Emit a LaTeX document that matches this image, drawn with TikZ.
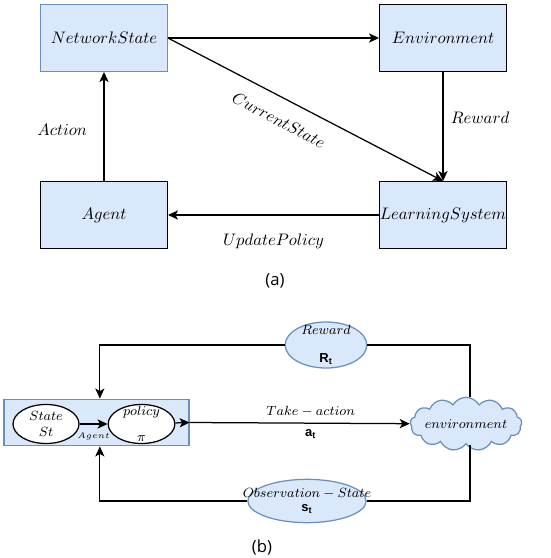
\documentclass[tikz,border=0pt]{standalone}
\usepackage{amsmath}
\usepackage{fontspec}
\setsansfont{Liberation Sans}
\newfontfamily\capfont{Open Sans}
\usepackage{tikz}
\usetikzlibrary{arrows.meta,positioning,calc,shapes.geometric,shapes.symbols}
\definecolor{boxblue}{HTML}{DAE8FC}
\definecolor{lineblue}{HTML}{6C8EBF}

\begin{document}
\begin{tikzpicture}[x=0.6pt, y=-0.6pt, >={Stealth[length=6pt,width=5.5pt,inset=1.5pt]}, line width=0.75pt,
  block/.style={draw, fill=boxblue, minimum width=76pt, minimum height=40pt, inner xsep=0pt},
  smalltext/.style={font=\fontsize{7.8}{9.6}\selectfont},
  txt/.style={label={[smalltext, align=center]center:#1}}]
  \useasboundingbox (0,0) rectangle (550,558);

  % (a)
  \node[block, draw=lineblue] (ns) at (104,38) {$NetworkState$};
  \node[block] (env) at (443,38) {$Environment$};
  \node[block] (agent) at (104,215) {$Agent$};
  \node[block] (ls) at (443,215) {$LearningSystem$};

  \draw[->] (ns.east) -- (env.west);
  \draw[->] (ns.east) -- node[pos=0.44, sloped, below=6pt] (cs) {$CurrentState$} (ls.north);
  \draw[->] (env) -- node[pos=0.42, right=1pt] (rw) {$Reward$} (ls.north);
  \draw[->] (agent) -- node[pos=0.47, left=6.5pt] (act) {$Action$} (ns);
  \draw[->] (ls) -- node[below=7.5pt] (up) {$UpdatePolicy$} (agent);
  \node[font=\capfont] (capa) at (275,281) {(a)};

  % (b)
  \node[draw=lineblue, fill=boxblue, minimum width=111pt, minimum height=28pt, inner sep=0pt] (abox) at (96.5,422.5) {};
  \node[ellipse, draw, fill=white, minimum width=39.6pt, minimum height=23.4pt, inner sep=0pt,
    txt={$State$\\$St$}] (st) at (46,424) {};
  \node[ellipse, draw, fill=white, minimum width=40pt, minimum height=23.4pt, inner sep=0pt,
    txt={$policy$\\[6pt]$\pi$}] (pol) at (141.5,424) {};
  \node[cloud, cloud puffs=13, cloud puff arc=120, cloud ignores aspect, draw=lineblue, fill=boxblue,
    minimum width=67pt, minimum height=32pt, inner sep=0pt, txt={$environment$}] (cl) at (466,424) {};
  \node[ellipse, draw=lineblue, fill=boxblue, minimum width=49pt, minimum height=27.6pt, inner sep=0pt,
    txt={$Reward$\\[7pt]$\textsf{\textbf{R}}_{\textsf{\textbf{t}}}$}] (rwd) at (326,345) {};
  \node[ellipse, draw=lineblue, fill=boxblue, minimum width=71pt, minimum height=26pt, inner sep=0pt,
    txt={$Observation-State$\\[-1pt]$\textsf{\textbf{s}}_{\textsf{\textbf{t}}}$}] (obs) at (307,501) {};

  \draw[->] (st) -- node[below=1.4pt, font=\tiny] (ag) {$Agent$} (pol);
  \draw[->] (pol) -- (abox.east);
  \draw[->] (abox.east) -- node[pos=0.55, above, smalltext] (ta) {$Take-action$}
    node[pos=0.55, below, smalltext] (at) {$\textsf{\textbf{a}}_{\textsf{\textbf{t}}}$} (cl);
  \draw ([xshift=2.4pt]cl.north) |- (rwd.east);
  \draw[->] (rwd.west) -| ([xshift=2pt]abox.north);
  \draw ([xshift=2.4pt]cl.south) |- (obs.east);
  \draw[->] (obs.west) -| ([xshift=2pt]abox.south);
  \node[font=\capfont] (capb) at (262,547) {(b)};
\end{tikzpicture}
\end{document}
